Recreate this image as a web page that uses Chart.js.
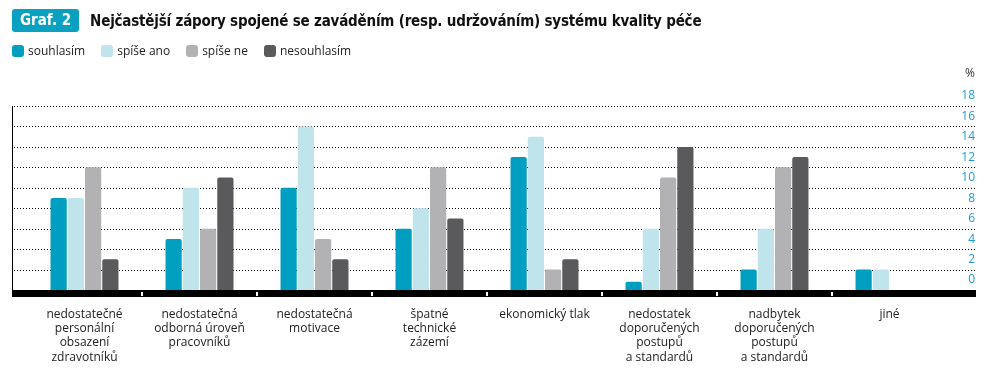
<!DOCTYPE html>
<html lang="cs">
<head>
<meta charset="UTF-8">
<title>Graf. 2</title>
<script src="https://cdn.jsdelivr.net/npm/chart.js@4.4.1/dist/chart.umd.min.js"></script>
<style>
  body { margin: 0; background: #fff; font-family: "Open Sans", sans-serif; }
  #wrap { position: relative; width: 989px; height: 374px; }
  #head { position: absolute; left: 12px; top: 9px; height: 23px; display: flex; align-items: center; }
  #badge { background: #0aa0c0; color: #fff; font-weight: bold; font-size: 15px; height: 23px; line-height: 23px;
           padding: 0 8px; border-radius: 3px; font-family: "Liberation Sans Narrow", "DejaVu Sans Condensed", sans-serif; }
  #title { margin-left: 11px; font-weight: bold; font-size: 15px; letter-spacing: -0.2px; color: #111;
           font-family: "Liberation Sans Narrow", "DejaVu Sans Condensed", sans-serif; }
  #legend { position: absolute; left: 12px; top: 42px; display: flex; font-size: 12px; color: #222; }
  #legend span.item { display: flex; align-items: center; margin-right: 16px; }
  #legend i { display: inline-block; width: 12px; height: 12px; border-radius: 3px; margin-right: 4px; }
  canvas { position: absolute; left: 0; top: 0; }
</style>
</head>
<body>
<div id="wrap">
  <canvas id="myChart" width="989" height="374"></canvas>
  <div id="head"><span id="badge">Graf. 2</span><span id="title">Nejčastější zápory spojené se zaváděním (resp. udržováním) systému kvality péče</span></div>
  <div id="legend"></div>
</div>
<script>
const categories = [
  ['nedostatečné', 'personální', 'obsazení', 'zdravotníků'],
  ['nedostatečná', 'odborná úroveň', 'pracovníků'],
  ['nedostatečná', 'motivace'],
  ['špatné', 'technické', 'zázemí'],
  ['ekonomický tlak'],
  ['nedostatek', 'doporučených', 'postupů', 'a standardů'],
  ['nadbytek', 'doporučených', 'postupů', 'a standardů'],
  ['jiné']
];
const seriesNames = ['souhlasím', 'spíše ano', 'spíše ne', 'nesouhlasím'];
const seriesColors = ['#009ec0', '#bfe4ec', '#b2b2b4', '#5a5a5c'];
const souhlasim   = [9, 5, 10, 6, 13, 0.8, 2, 2];
const spiseAno    = [9, 10, 16, 8, 15, 6, 6, 2];
const spiseNe     = [12, 6, 5, 12, 2, 11, 12, 0];
const nesouhlasim = [3, 11, 3, 7, 3, 14, 13, 0];
const yTicks = [0, 2, 4, 6, 8, 10, 12, 14, 16, 18];

// legenda
const legend = document.getElementById('legend');
seriesNames.forEach((name, i) => {
  const s = document.createElement('span');
  s.className = 'item';
  s.innerHTML = '<i style="background:' + seriesColors[i] + '"></i>' + name;
  legend.appendChild(s);
});

// mrizka, zakladna a % se kresli pres skaly
const frame = {
  id: 'frame',
  beforeDatasetsDraw(chart) {
    const ctx = chart.ctx, y = chart.scales.y;
    ctx.save();
    ctx.strokeStyle = '#000';
    ctx.lineWidth = 1;
    ctx.setLineDash([1, 2]);
    yTicks.forEach(v => {
      if (v === 0) return;
      const py = Math.round(y.getPixelForValue(v)) + 0.5;
      ctx.beginPath(); ctx.moveTo(14, py); ctx.lineTo(975, py); ctx.stroke();
    });
    ctx.setLineDash([]);
    ctx.beginPath();
    ctx.moveTo(12.5, Math.round(y.getPixelForValue(18)));
    ctx.lineTo(12.5, y.getPixelForValue(0));
    ctx.stroke();
    ctx.restore();
  },
  afterDatasetsDraw(chart) {
    const ctx = chart.ctx, x = chart.scales.x, y = chart.scales.y;
    const base = y.getPixelForValue(0);
    ctx.save();
    ctx.fillStyle = '#000';
    ctx.fillRect(12, base, 964, 7);
    ctx.fillStyle = '#fff';
    for (let i = 1; i < categories.length; i++) {
      const px = (x.getPixelForValue(i - 1) + x.getPixelForValue(i)) / 2;
      ctx.fillRect(px - 1, base + 2, 2, 4);
    }
    ctx.fillStyle = '#333';
    ctx.font = '12px "Open Sans"';
    ctx.textAlign = 'right';
    ctx.textBaseline = 'middle';
    ctx.fillText('%', 975, 74);
    ctx.restore();
  }
};

const ctx = document.getElementById('myChart').getContext('2d');
const myChart = new Chart(ctx, {
  type: 'bar',
  data: {
    labels: categories,
    datasets: [souhlasim, spiseAno, spiseNe, nesouhlasim].map((d, i) => ({
      label: seriesNames[i],
      data: d,
      backgroundColor: seriesColors[i],
      borderRadius: { topLeft: 2, topRight: 2 },
      borderSkipped: 'bottom',
      categoryPercentage: 0.6,
      barPercentage: 0.94
    }))
  },
  options: {
    responsive: false,
    animation: false,
    layout: { padding: { left: 27, right: 14, top: 106, bottom: 0 } },
    plugins: { legend: { display: false }, title: { display: false }, tooltip: { enabled: false } },
    scales: {
      x: {
        grid: { display: false },
        border: { display: false },
        ticks: { color: '#222', font: { family: 'Open Sans', size: 12 }, padding: 9, maxRotation: 0, autoSkip: false },
        afterFit(scale) { scale.height = 84; }
      },
      y: {
        position: 'right',
        min: 0, max: 18,
        afterBuildTicks(scale) { scale.ticks = yTicks.map(v => ({ value: v })); },
        grid: { display: false },
        border: { display: false },
        ticks: { color: '#1b9ad6', font: { family: 'Open Sans', size: 12 }, labelOffset: -10, crossAlign: 'far', padding: 0 },
        afterFit(scale) { scale.width = 28; }
      }
    }
  },
  plugins: [frame]
});
</script>
</body>
</html>
